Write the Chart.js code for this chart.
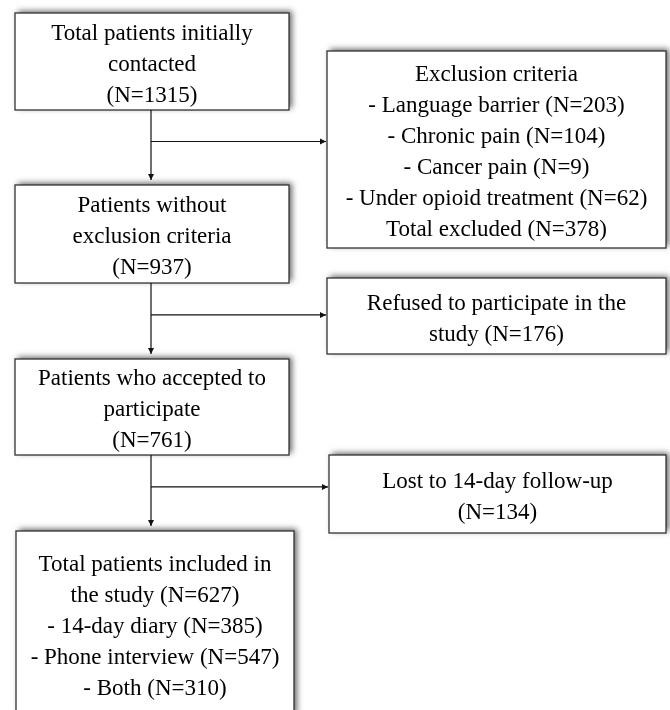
<!DOCTYPE html>
<html>
<head>
<meta charset="utf-8">
<script src="https://cdn.jsdelivr.net/npm/chart.js@4.4.0/dist/chart.umd.min.js"></script>
<style>
  html, body { margin: 0; padding: 0; background: #fff; }
  canvas { display: block; }
</style>
</head>
<body>
<canvas id="chart" width="670" height="710"></canvas>
<script>
// main flow (left column), label lines as printed in the figure
const stageLabels = [
  ['Total patients initially', 'contacted'],
  ['Patients without', 'exclusion criteria'],
  ['Patients who accepted to', 'participate'],
  ['Total patients included in', 'the study']
];
const stageN = [1315, 937, 761, 627];

// drop-outs (right column)
const dropLabels = [['Exclusion criteria'], ['Refused to participate in the', 'study'], ['Lost to 14-day follow-up']];
const dropN = [378, 176, 134];

// exclusion reasons
const exclusionReasons = ['Language barrier', 'Chronic pain', 'Cancer pain', 'Under opioid treatment'];
const exclusionN = [203, 104, 9, 62];

// data sources of the included patients
const sourceLabels = ['14-day diary', 'Phone interview', 'Both'];
const sourceN = [385, 547, 310];

// box layout, in axis units (x 0..670, y 0..710 top-down)
const leftCol = { x0: 15, x1: 289 };
const rightCol = { x0: 327, x1: 666 };
const leftRows = [[13, 110], [185, 283], [359, 455], [531, 716]];
const rightRows = [[51, 248], [278, 354], [455, 533]];

const boxes = [];
// left boxes
boxes.push({ ...leftCol, y0: leftRows[0][0], y1: leftRows[0][1],
  lines: [...stageLabels[0], `(N=${stageN[0]})`] });
boxes.push({ ...leftCol, y0: leftRows[1][0], y1: leftRows[1][1],
  lines: [...stageLabels[1], `(N=${stageN[1]})`] });
boxes.push({ ...leftCol, y0: leftRows[2][0], y1: leftRows[2][1],
  lines: [...stageLabels[2], `(N=${stageN[2]})`] });
boxes.push({ x0: 16, x1: 294, y0: leftRows[3][0], y1: leftRows[3][1],
  lines: [stageLabels[3][0], `${stageLabels[3][1]} (N=${stageN[3]})`,
    ...sourceLabels.map((s, i) => `- ${s} (N=${sourceN[i]})`)] });
// right boxes
boxes.push({ ...rightCol, y0: rightRows[0][0], y1: rightRows[0][1],
  lines: [dropLabels[0][0], ...exclusionReasons.map((r, i) => `- ${r} (N=${exclusionN[i]})`),
    `Total excluded (N=${dropN[0]})`] });
boxes.push({ ...rightCol, y0: rightRows[1][0], y1: rightRows[1][1],
  lines: [dropLabels[1][0], `${dropLabels[1][1]} (N=${dropN[1]})`] });
boxes.push({ x0: 329, x1: 666, y0: rightRows[2][0], y1: rightRows[2][1],
  lines: [dropLabels[2][0], `(N=${dropN[2]})`] });

// connectors derived from the boxes
const trunkX = 151;
const connectors = [];
for (let i = 0; i < 3; i++) {
  const from = leftRows[i][1];
  const to = leftRows[i + 1][0] - 5;
  const branchY = from + (leftRows[i + 1][0] - from) * 0.42;
  connectors.push({ pts: [{ x: trunkX, y: from }, { x: trunkX, y: to }], dir: 'down' });
  connectors.push({ pts: [{ x: trunkX, y: branchY }, { x: boxes[4 + i].x0 - 1, y: branchY }], dir: 'right' });
}

const FONT = '23px "Liberation Serif", "Times New Roman", serif';
const LINE_H = 31;

const flowPlugin = {
  id: 'flow',
  beforeDatasetsDraw(chart) {
    const { ctx, scales: { x, y } } = chart;
    boxes.forEach(b => {
      const l = x.getPixelForValue(b.x0), r = x.getPixelForValue(b.x1);
      const t = y.getPixelForValue(b.y0), btm = y.getPixelForValue(b.y1);
      ctx.save();
      ctx.shadowColor = 'rgba(0,0,0,0.6)';
      ctx.shadowBlur = 6;
      ctx.shadowOffsetX = 3;
      ctx.shadowOffsetY = -2;
      ctx.fillStyle = '#fff';
      ctx.fillRect(l, t, r - l, btm - t);
      ctx.restore();
      ctx.save();
      ctx.strokeStyle = '#333';
      ctx.lineWidth = 1.3;
      ctx.strokeRect(l, t, r - l, btm - t);
      ctx.restore();
    });
  },
  afterDatasetsDraw(chart) {
    const { ctx, scales: { x, y } } = chart;
    // arrow heads
    ctx.save();
    ctx.fillStyle = '#111';
    connectors.forEach(c => {
      const end = c.pts[1];
      const px = x.getPixelForValue(end.x), py = y.getPixelForValue(end.y);
      ctx.beginPath();
      if (c.dir === 'down') {
        ctx.moveTo(px, py);
        ctx.lineTo(px - 3, py - 6);
        ctx.lineTo(px + 3, py - 6);
      } else {
        ctx.moveTo(px, py);
        ctx.lineTo(px - 6, py - 3);
        ctx.lineTo(px - 6, py + 3);
      }
      ctx.closePath();
      ctx.fill();
    });
    ctx.restore();

    // box texts
    ctx.save();
    ctx.font = FONT;
    ctx.fillStyle = '#000';
    ctx.textAlign = 'center';
    ctx.textBaseline = 'middle';
    boxes.forEach(b => {
      const cx = x.getPixelForValue((b.x0 + b.x1) / 2);
      const cy = y.getPixelForValue((b.y0 + b.y1) / 2) + 3;
      const n = b.lines.length;
      b.lines.forEach((txt, i) => {
        ctx.fillText(txt, cx, cy + (i - (n - 1) / 2) * LINE_H);
      });
    });
    ctx.restore();
  }
};

const ctx = document.getElementById('chart').getContext('2d');
const chart = new Chart(ctx, {
  type: 'scatter',
  data: {
    datasets: connectors.map(c => ({
      data: c.pts,
      showLine: true,
      borderColor: '#111',
      borderWidth: 1.2,
      pointRadius: 0,
      clip: false
    }))
  },
  options: {
    responsive: false,
    animation: false,
    layout: { padding: 0 },
    plugins: {
      legend: { display: false },
      tooltip: { enabled: false }
    },
    scales: {
      x: { type: 'linear', min: 0, max: 670, display: false },
      y: { type: 'linear', min: 0, max: 710, reverse: true, display: false }
    }
  },
  plugins: [flowPlugin]
});
</script>
</body>
</html>
